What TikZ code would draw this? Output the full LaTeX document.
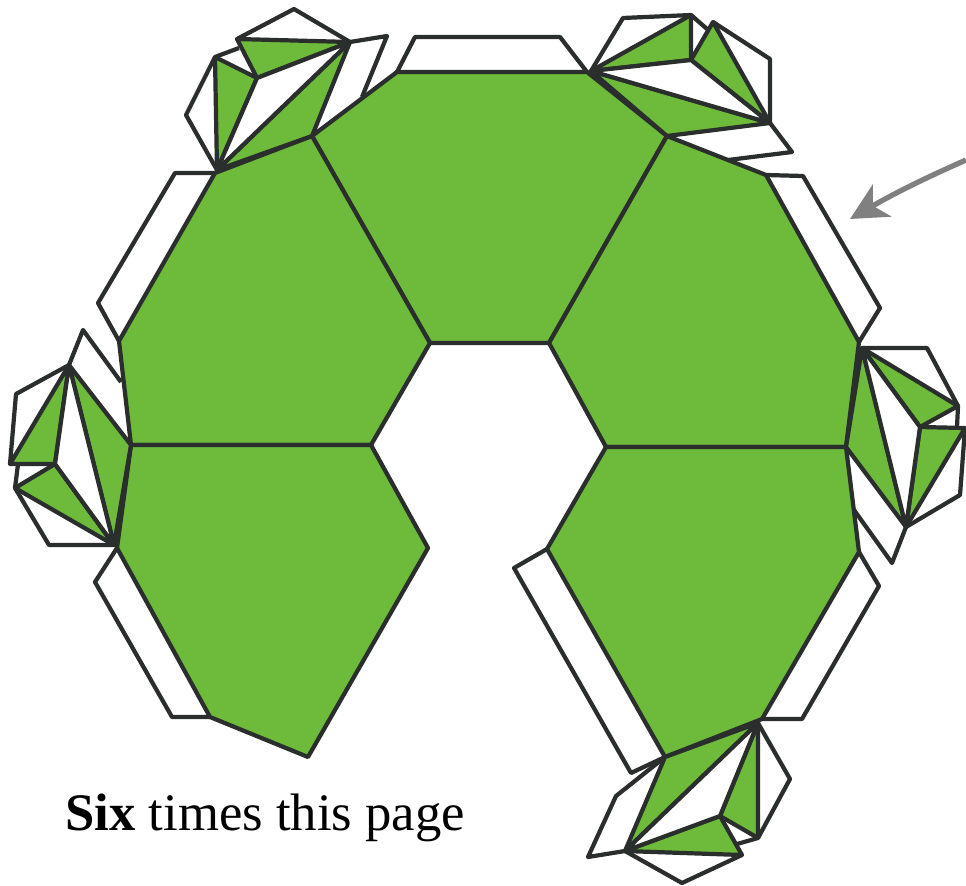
\documentclass[tikz,border=0pt]{standalone}
\usepackage{fontspec}
\setmainfont{Liberation Serif}
\usetikzlibrary{arrows.meta}
\definecolor{leaf}{HTML}{6EBA3B}
\definecolor{ink}{HTML}{2A2E2D}
\tikzset{
    face/.style={draw=ink, fill=leaf, line width=2.4pt, line join=round},
    flap/.style={draw=ink, fill=white, line width=2.4pt, line join=round},
}

\begin{document}
\begin{tikzpicture}[x=0.02cm, y=-0.02cm, >=Stealth]
    \useasboundingbox (0,0) rectangle (966,885);

    % Corners of the hexagons
    \coordinate (A) at (397,72);  \coordinate (B) at (587,72);
    \coordinate (C) at (667,136); \coordinate (D) at (549,343);
    \coordinate (E) at (430,343); \coordinate (F) at (312,136);
    \coordinate (G) at (215,173); \coordinate (H) at (371,445);
    \coordinate (I) at (131,445); \coordinate (J) at (119,341);
    \coordinate (K) at (428,548); \coordinate (L) at (308,757);
    \coordinate (M) at (210,717); \coordinate (N) at (117,548);
    \coordinate (O) at (766,175); \coordinate (P) at (859,342);
    \coordinate (Q) at (846,447); \coordinate (R) at (606,447);
    \coordinate (S) at (859,552); \coordinate (T) at (762,719);
    \coordinate (U) at (665,757); \coordinate (V) at (547,549);

    % Plain tabs
    \draw[flap] (A) -- (415,37) -- (560,37) -- (B);
    \draw[flap] (G) -- (175,173) -- (98,303) -- (J);
    \draw[flap] (O) -- (803,176) -- (880,308) -- (P);
    \draw[flap] (N) -- (95,582) -- (172,717) -- (M);
    \draw[flap] (S) -- (879,586) -- (802,719) -- (T);
    \draw[flap] (V) -- (514,568) -- (631,773) -- (U);

    % Hexagons
    \draw[face] (A) -- (B) -- (C) -- (D) -- (E) -- (F) -- cycle;
    \draw[face] (G) -- (F) -- (E) -- (H) -- (I) -- (J) -- cycle;
    \draw[face] (I) -- (H) -- (K) -- (L) -- (M) -- (N) -- cycle;
    \draw[face] (C) -- (O) -- (P) -- (Q) -- (R) -- (D) -- cycle;
    \draw[face] (R) -- (Q) -- (S) -- (T) -- (U) -- (V) -- cycle;

    % Top left fan
    \coordinate (ta) at (217,170); \coordinate (tb) at (350,42);
    \coordinate (tc) at (257,78);  \coordinate (td) at (237,39);
    \coordinate (te) at (215,57);
    \draw[flap] (tb) -- (387,36) -- (362,97);
    \draw[flap] (ta) -- (186,115) -- (te);
    \draw[flap] (td) -- (294,9) -- (tb);
    \draw[flap] (te) -- (239,48);
    \draw[face] (ta) -- (F) -- (tb) -- cycle;
    \draw[face] (tb) -- (tc) -- (td) -- cycle;
    \draw[face] (ta) -- (te) -- (tc) -- cycle;
    \draw[flap] (ta) -- (tc) -- (tb) -- cycle;

    % Top right fan
    \coordinate (ua) at (591,71);  \coordinate (ub) at (770,123);
    \coordinate (uc) at (691,60);  \coordinate (ud) at (691,15);
    \coordinate (ue) at (713,22);
    \draw[flap] (ua) -- (623,18) -- (ud);
    \draw[flap] (ue) -- (770,59) -- (ub);
    \draw[flap] (ub) -- (792,152) -- (728,160);
    \draw[flap] (ud) -- (707,29);
    \draw[face] (ua) -- (C) -- (ub) -- cycle;
    \draw[face] (ua) -- (uc) -- (ud) -- cycle;
    \draw[face] (uc) -- (ue) -- (ub) -- cycle;
    \draw[flap] (ua) -- (uc) -- (ub) -- cycle;

    % Left fan
    \coordinate (la) at (69,365);  \coordinate (lb) at (114,545);
    \coordinate (lc) at (55,464);  \coordinate (ld) at (10,464);
    \coordinate (le) at (15,488);
    \draw[flap] (la) -- (83,330) -- (121,382);
    \draw[flap] (la) -- (16,394) -- (ld);
    \draw[flap] (le) -- (49,545) -- (lb);
    \draw[flap] (le) -- (18,464);
    \draw[face] (la) -- (I) -- (lb) -- cycle;
    \draw[face] (la) -- (lc) -- (ld) -- cycle;
    \draw[face] (lc) -- (le) -- (lb) -- cycle;
    \draw[flap] (la) -- (lc) -- (lb) -- cycle;

    % Right fan
    \coordinate (ra) at (862,348); \coordinate (rb) at (906,527);
    \coordinate (rc) at (920,427); \coordinate (rd) at (958,406);
    \coordinate (re) at (965,428);
    \draw[flap] (ra) -- (927,348) -- (rd);
    \draw[flap] (re) -- (960,495) -- (rb);
    \draw[flap] (rb) -- (892,563) -- (854,510);
    \draw[flap] (rd) -- (957,427);
    \draw[face] (ra) -- (Q) -- (rb) -- cycle;
    \draw[face] (ra) -- (rc) -- (rd) -- cycle;
    \draw[face] (rc) -- (re) -- (rb) -- cycle;
    \draw[flap] (ra) -- (rc) -- (rb) -- cycle;

    % Bottom fan
    \coordinate (ba) at (758,723); \coordinate (bb) at (625,851);
    \coordinate (bc) at (720,816); \coordinate (bd) at (758,838);
    \coordinate (be) at (742,855);
    \draw[flap] (ba) -- (790,779) -- (bd);
    \draw[flap] (be) -- (682,883) -- (bb);
    \draw[flap] (U) -- (616,796) -- (588,857) -- (bb);
    \draw[flap] (bd) -- (737,844);
    \draw[face] (ba) -- (U) -- (bb) -- cycle;
    \draw[face] (ba) -- (bc) -- (bd) -- cycle;
    \draw[face] (bc) -- (be) -- (bb) -- cycle;
    \draw[flap] (ba) -- (bc) -- (bb) -- cycle;

    % Arrow and caption
    \coordinate (tail) at (966,160);
    \coordinate (tip) at (850,219);
    \draw[-{Stealth[length=21pt, width=21pt, inset=6pt]}, draw=gray, line width=3pt] (tail) to[bend right=3] (tip);
    \node[anchor=base west, inner sep=0pt, font=\fontsize{30}{34}\selectfont] (caption) at (65,830) {\textbf{Six} times this page};
\end{tikzpicture}
\end{document}
